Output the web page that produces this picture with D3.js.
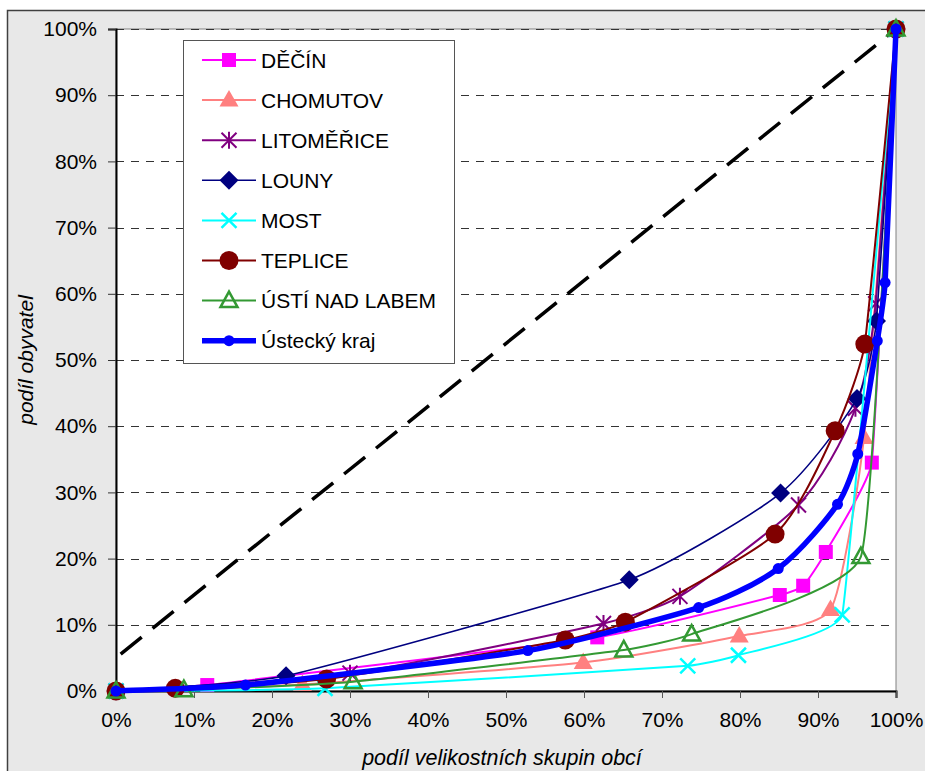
<!DOCTYPE html>
<html><head><meta charset="utf-8">
<script src="https://cdn.jsdelivr.net/npm/d3@7"></script>
<style>body{margin:0;background:#fff}svg{display:block}text{font-family:"Liberation Sans",Arial,sans-serif}</style>
</head><body>
<svg id="c" width="925" height="771"></svg>
<script>
// ---- data (fractions: x = share of municipality size groups, y = share of population)
const xTicks = [0,0.1,0.2,0.3,0.4,0.5,0.6,0.7,0.8,0.9,1];
const yTicks = [0,0.1,0.2,0.3,0.4,0.5,0.6,0.7,0.8,0.9,1];
const tickLabels = ["0%","10%","20%","30%","40%","50%","60%","70%","80%","90%","100%"];
const xTitle = "podíl velikostních skupin obcí";
const yTitle = "podíl obyvatel";
const diagonal = [[0,0.05],[1,1]];

const seriesNames = ["DĚČÍN","CHOMUTOV","LITOMĚŘICE","LOUNY","MOST","TEPLICE","ÚSTÍ NAD LABEM","Ústecký kraj"];
const decin      = [[0,0],[0.117,0.009],[0.617,0.081],[0.851,0.145],[0.881,0.159],[0.910,0.210],[0.969,0.345],[1,1]];
const chomutov   = [[0,0],[0.239,0.010],[0.599,0.043],[0.799,0.083],[0.916,0.123],[0.959,0.383],[1,1]];
const litomerice = [[0,0],[0.300,0.027],[0.625,0.102],[0.723,0.143],[0.875,0.281],[0.948,0.427],[0.974,0.585],[1,1]];
const louny      = [[0,0],[0.218,0.023],[0.658,0.168],[0.852,0.299],[0.950,0.442],[0.975,0.559],[1,1]];
const most       = [[0,0],[0.268,0.004],[0.733,0.038],[0.798,0.054],[0.931,0.115],[1,1]];
const teplice    = [[0,0],[0.076,0.004],[0.270,0.018],[0.576,0.077],[0.653,0.104],[0.845,0.237],[0.922,0.393],[0.960,0.524],[1,1]];
const usti       = [[0,0],[0.087,0.002],[0.304,0.014],[0.651,0.062],[0.738,0.086],[0.955,0.203],[1,1]];
const ustecky    = [[0,0],[0.166,0.009],[0.528,0.061],[0.747,0.126],[0.849,0.185],[0.925,0.282],[0.951,0.358],[0.976,0.529],[0.986,0.617],[1,1]];
const seriesData = [decin,chomutov,litomerice,louny,most,teplice,usti,ustecky];

// ---- styles
const styles = [
  {color:"#ff00ff", width:2,   marker:"square"},
  {color:"#ff8080", width:2,   marker:"triangle"},
  {color:"#800080", width:2,   marker:"asterisk"},
  {color:"#000080", width:1.6, marker:"diamond"},
  {color:"#00ffff", width:2,   marker:"x"},
  {color:"#800000", width:2,   marker:"circle"},
  {color:"#339933", width:2,   marker:"opentri"},
  {color:"#0000ff", width:5.5, marker:"dot"}
];

// Spreadsheet-like smoothed curve (Bezier, tangent from neighbours, shortened where segments differ)
function SmoothCurve(context){ this._context = context; }
SmoothCurve.prototype = {
  areaStart(){}, areaEnd(){},
  lineStart(){ this._pts = []; },
  point(x,y){ this._pts.push([+x,+y]); },
  lineEnd(){
    const p = this._pts, n = p.length, c = this._context;
    if(!n) return;
    c.moveTo(p[0][0],p[0][1]);
    const dist = (a,b)=>Math.hypot(a[0]-b[0],a[1]-b[1]);
    const ratio = (a,b,d)=>{ const d1=dist(a,b), d2=dist(b,d); const mx=Math.max(d1,d2); return mx? Math.min(d1,d2)/mx : 1; };
    for(let i=0;i<n-1;i++){
      const P0 = p[i-1]||p[i], P1 = p[i], P2 = p[i+1], P3 = p[i+2]||p[i+1];
      const s1 = i>0 ? ratio(P0,P1,P2) : 1;
      const s2 = i+2<n ? ratio(P1,P2,P3) : 1;
      const c1 = [P1[0]+(P2[0]-P0[0])/6*s1, P1[1]+(P2[1]-P0[1])/6*s1];
      const c2 = [P2[0]-(P3[0]-P1[0])/6*s2, P2[1]-(P3[1]-P1[1])/6*s2];
      c.bezierCurveTo(c1[0],c1[1],c2[0],c2[1],P2[0],P2[1]);
    }
  }
};
const smoothCurve = ctx => new SmoothCurve(ctx);

const svg = d3.select("#c");
// chart area
svg.append("rect").attr("x",7.5).attr("y",10.5).attr("width",940).attr("height",790)
  .attr("fill","#e8e8e8").attr("stroke","#404040").attr("stroke-width",1.5);

const L=116, R=896, T=29, B=691;
const x = d3.scaleLinear().domain([0,1]).range([L,R]);
const y = d3.scaleLinear().domain([0,1]).range([B,T]);

svg.append("rect").attr("x",L).attr("y",T).attr("width",R-L).attr("height",B-T)
  .attr("fill","#fff").attr("stroke","#808080").attr("stroke-width",1);

// gridlines
svg.append("g").selectAll("line").data(yTicks.slice(1)).join("line")
  .attr("x1",L).attr("x2",R).attr("y1",d=>Math.round(y(d))+0.5).attr("y2",d=>Math.round(y(d))+0.5)
  .attr("stroke","#333").attr("stroke-width",1).attr("stroke-dasharray","8,7");

// axes
const yAxis = d3.axisLeft(y).tickValues(yTicks).tickFormat((d,i)=>tickLabels[i]).tickSizeOuter(0).tickSize(8).tickPadding(11);
const gy = svg.append("g").attr("transform",`translate(${L},0)`).call(yAxis);
const xAxis = d3.axisBottom(x).tickValues(xTicks).tickFormat((d,i)=>tickLabels[i]).tickSizeOuter(0).tickSize(7).tickPadding(14);
const gx = svg.append("g").attr("transform",`translate(0,${B})`).call(xAxis);
[gx,gy].forEach(g=>{
  g.select(".domain").attr("stroke","#000").attr("stroke-width",2);
  g.selectAll(".tick line").attr("stroke","#555").attr("stroke-width",1);
  g.selectAll(".tick text").attr("fill","#000").style("font-size","21px").style("font-family",'"Liberation Sans",Arial,sans-serif');
});
gy.selectAll(".tick line").attr("stroke","#333");

// diagonal
svg.append("line").attr("x1",x(diagonal[0][0])).attr("y1",y(diagonal[0][1]))
  .attr("x2",x(diagonal[1][0])).attr("y2",y(diagonal[1][1]))
  .attr("stroke","#000").attr("stroke-width",3.5).attr("stroke-dasharray","27,14").attr("stroke-dashoffset",-6);

// markers
function drawMarker(g, type, cx, cy, color){
  const m = g.append("g").attr("transform",`translate(${cx},${cy})`);
  if(type==="square") m.append("rect").attr("x",-7).attr("y",-7).attr("width",14).attr("height",14).attr("fill",color);
  else if(type==="triangle") m.append("path").attr("d","M0,-10L9.5,6.5L-9.5,6.5Z").attr("fill",color);
  else if(type==="opentri") m.append("path").attr("d","M0,-9L8.5,6.5L-8.5,6.5Z").attr("fill","none").attr("stroke",color).attr("stroke-width",2.5);
  else if(type==="diamond") m.append("path").attr("d","M0,-9.5L9.5,0L0,9.5L-9.5,0Z").attr("fill",color);
  else if(type==="circle") m.append("circle").attr("r",9.5).attr("fill",color);
  else if(type==="dot") m.append("circle").attr("r",5.5).attr("fill",color);
  else if(type==="x") m.append("path").attr("d","M-7.5,-7.5L7.5,7.5M-7.5,7.5L7.5,-7.5").attr("stroke",color).attr("stroke-width",2.5);
  else if(type==="asterisk") m.append("path").attr("d","M-7.5,-7.5L7.5,7.5M-7.5,7.5L7.5,-7.5M0,-8.5L0,8.5").attr("stroke",color).attr("stroke-width",2);
}

const line = d3.line().x(d=>x(d[0])).y(d=>y(d[1])).curve(smoothCurve);
seriesData.forEach((data,i)=>{
  const s = styles[i];
  const g = svg.append("g");
  g.append("path").datum(data).attr("d",line).attr("fill","none")
    .attr("stroke",s.color).attr("stroke-width",s.width).attr("stroke-linejoin","round");
  data.forEach(d=>drawMarker(g,s.marker,x(d[0]),y(d[1]),s.color));
});

// legend
const lg = svg.append("g");
lg.append("rect").attr("x",183.5).attr("y",40.5).attr("width",271).attr("height",323)
  .attr("fill","#fff").attr("stroke","#555").attr("stroke-width",1);
seriesNames.forEach((name,i)=>{
  const s = styles[i];
  const cy = 60 + i*40.1;
  lg.append("line").attr("x1",202).attr("x2",256).attr("y1",cy).attr("y2",cy)
    .attr("stroke",s.color).attr("stroke-width",s.width);
  drawMarker(lg,s.marker,229,cy,s.color);
  lg.append("text").attr("x",261).attr("y",cy).attr("dy","0.36em").style("font-size","21px").attr("fill","#000").text(name);
});

// axis titles
svg.append("text").attr("x",(L+R)/2-4).attr("y",765).attr("text-anchor","middle")
  .style("font-size","21.5px").style("font-style","italic").text(xTitle);
svg.append("text").attr("transform",`translate(33,${(T+B)/2}) rotate(-90)`).attr("text-anchor","middle")
  .style("font-size","21px").style("font-style","italic").text(yTitle);
</script>
</body></html>
